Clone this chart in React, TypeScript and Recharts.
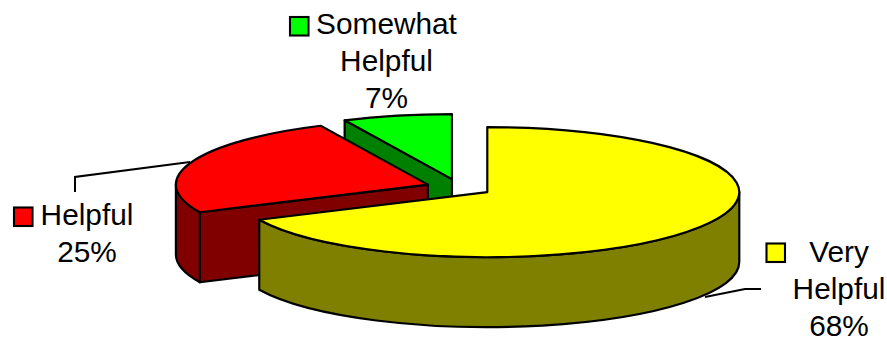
import React from "react";
import { PieChart, Pie } from "recharts";

// Survey responses, listed back-to-front so nearer slices paint over farther ones.
const categories = ["Somewhat Helpful", "Helpful", "Very Helpful"];
const shares = [7, 25, 68];
const topColors = ["#00ff00", "#ff0000", "#ffff00"];
const sideColors = ["#008000", "#800000", "#808000"];

const labelLines = [
  ["Somewhat", "Helpful"],
  ["Helpful"],
  ["Very", "Helpful"],
];

const rows = categories.map((name, i) => ({
  name,
  value: shares[i],
  fill: topColors[i],
  side: sideColors[i],
  lines: labelLines[i],
}));

// Perspective of the drawn disc.
const TILT = 0.258;
const DEPTH = 70;
const EXPLODE = 0.132;
const INK = "#000";
const INK_WIDTH = 2.2;
const FONT = "'Liberation Sans', Arial, sans-serif";
const FONT_SIZE = 29.8;
const LINE_STEP = 37;

// Label block layout: text centre, first baseline, key box corner, leader polyline.
const labelLayout = [
  { tx: 386.5, ty: 34, kx: 290, ky: 17, leader: null },
  { tx: 87, ty: 225, kx: 14, ky: 207.5, leader: "M75,192 L75,177 L190,162" },
  { tx: 839, ty: 262, kx: 766.5, ky: 243.5, leader: "M761,289 L745,289 L705,297" },
];

const rad = (d: number) => (d * Math.PI) / 180;

function Slab(props: any) {
  const { cx, cy, outerRadius, startAngle, endAngle, payload } = props;
  const fill = props.fill ?? payload.fill;
  const side = payload?.side ?? props.side;
  const rx = outerRadius;
  const ry = outerRadius * TILT;
  const mid = rad((startAngle + endAngle) / 2);
  const ox = cx + EXPLODE * rx * Math.cos(mid);
  const oy = cy - EXPLODE * ry * Math.sin(mid);
  const px = (a: number) => ox + rx * Math.cos(rad(a));
  const py = (a: number) => oy - ry * Math.sin(rad(a));
  const arc = (from: number, to: number, dy: number) => {
    const large = Math.abs(to - from) > 180 ? 1 : 0;
    const sweep = to > from ? 0 : 1;
    return `A${rx},${ry} 0 ${large} ${sweep} ${px(to)},${py(to) + dy}`;
  };

  const parts: React.ReactNode[] = [];
  const common = { fill: side, stroke: INK, strokeWidth: INK_WIDTH, strokeLinejoin: "round" as const };

  // Radial cut faces that turn toward the viewer.
  [
    { a: startAngle, visible: Math.cos(rad(startAngle)) > 1e-6 },
    { a: endAngle, visible: Math.cos(rad(endAngle)) < -1e-6 },
  ].forEach(({ a, visible }) => {
    if (!visible) return;
    parts.push(
      <path
        key={`cut-${a}`}
        {...common}
        d={`M${ox},${oy} L${px(a)},${py(a)} L${px(a)},${py(a) + DEPTH} L${ox},${oy + DEPTH} Z`}
      />
    );
  });

  // Outer wall: only the part of the rim on the front half of the disc.
  const wallFrom = Math.max(startAngle, 180);
  const wallTo = Math.min(endAngle, 360);
  if (wallTo > wallFrom) {
    parts.push(
      <path
        key="wall"
        {...common}
        d={`M${px(wallFrom)},${py(wallFrom)} ${arc(wallFrom, wallTo, 0)} L${px(wallTo)},${py(wallTo) + DEPTH} ${arc(wallTo, wallFrom, DEPTH)} Z`}
      />
    );
  }

  // Top face.
  parts.push(
    <path
      key="top"
      {...common}
      fill={fill}
      d={`M${ox},${oy} L${px(startAngle)},${py(startAngle)} ${arc(startAngle, endAngle, 0)} Z`}
    />
  );
  return <g>{parts}</g>;
}

function SliceLabel(props: any) {
  const { index, value, payload } = props;
  const layout = labelLayout[index];
  const lines: string[] = [...(payload?.lines ?? rows[index].lines), `${value}%`];
  return (
    <g>
      {layout.leader && <path d={layout.leader} fill="none" stroke={INK} strokeWidth={2} />}
      <rect
        x={layout.kx}
        y={layout.ky}
        width={18.5}
        height={18.5}
        fill={rows[index].fill}
        stroke={INK}
        strokeWidth={2.1}
      />
      <text textAnchor="middle" fontFamily={FONT} fontSize={FONT_SIZE} fill={INK}>
        {lines.map((line, i) => (
          <tspan key={i} x={layout.tx} y={layout.ty + i * LINE_STEP}>
            {line}
          </tspan>
        ))}
      </text>
    </g>
  );
}

export default function App() {
  return (
    <div style={{ position: "absolute", left: 0, top: 0, background: "#fff" }}>
      <PieChart width={887} height={339} margin={{ top: 0, right: 0, bottom: 0, left: 0 }}>
        <Pie
          data={rows}
          dataKey="value"
          nameKey="name"
          cx={459.2}
          cy={187.5}
          outerRadius={252}
          startAngle={90}
          endAngle={450}
          isAnimationActive={false}
          shape={Slab}
          label={SliceLabel}
          labelLine={false}
        />
      </PieChart>
    </div>
  );
}
